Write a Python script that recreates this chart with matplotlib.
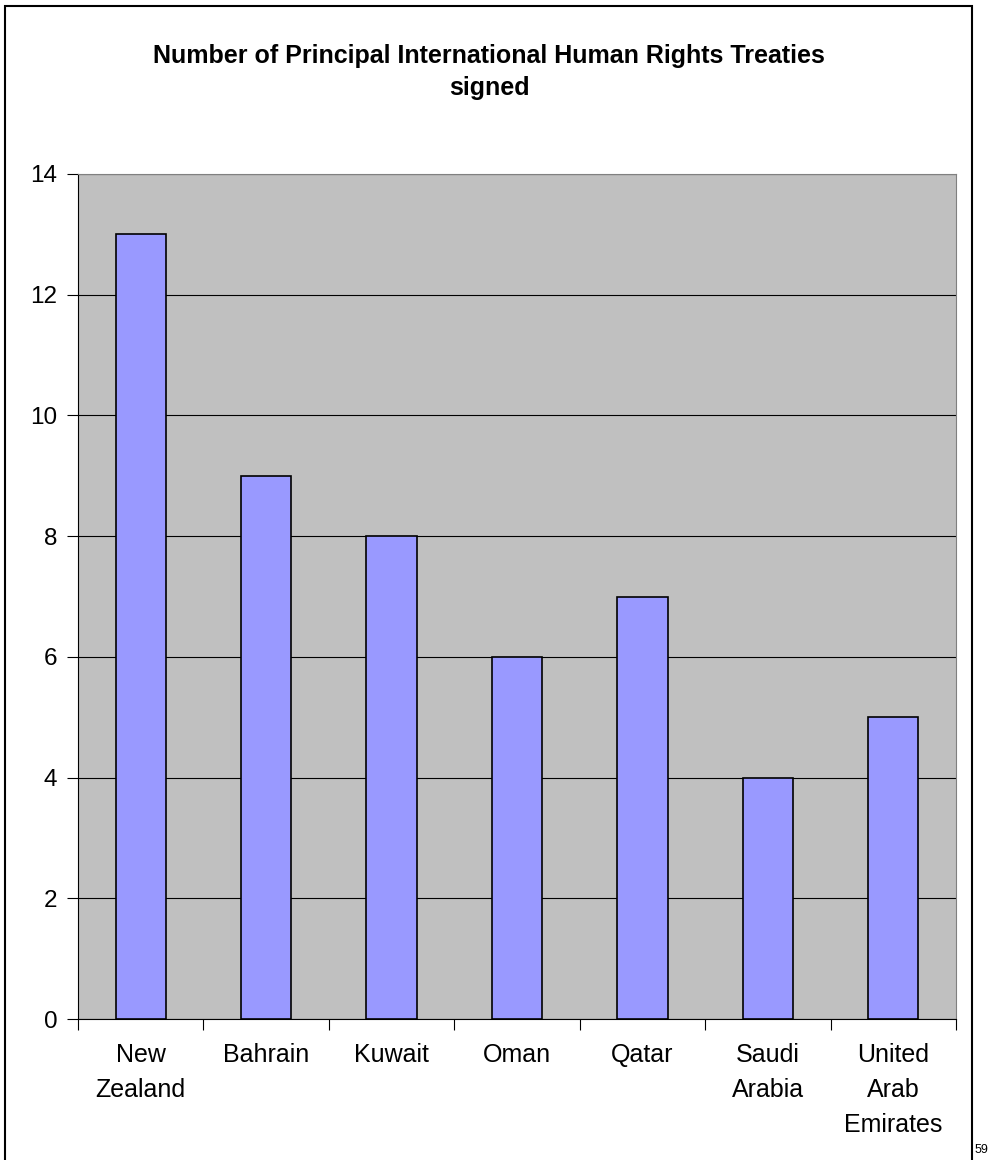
import matplotlib
matplotlib.use("Agg")
import matplotlib.pyplot as plt
from matplotlib.patches import Rectangle

plt.rcParams['font.family'] = ['Liberation Sans', 'DejaVu Sans']

# Data
countries = ["New\nZealand", "Bahrain", "Kuwait", "Oman", "Qatar",
             "Saudi\nArabia", "United\nArab\nEmirates"]
treaties = [13, 9, 8, 6, 7, 4, 5]
yticks = [0, 2, 4, 6, 8, 10, 12, 14]

fig = plt.figure(figsize=(9.98, 11.6), dpi=100)
ax = fig.add_axes([78/998, 1 - 1019/1160, 878/998, 845/1160])

# outer chart border (bottom edge is off the page)
fig.patches.append(Rectangle((5/998, -0.01), 967/998, 1 - 6/1160 + 0.01,
                             transform=fig.transFigure, fill=False,
                             edgecolor='black', linewidth=1.5))

ax.set_facecolor('#c0c0c0')
x = range(len(countries))
ax.bar(x, treaties, width=0.4, color='#9999ff', edgecolor='black',
       linewidth=1.2, zorder=3)

ax.set_xlim(-0.5, len(countries) - 0.5)
ax.set_ylim(0, 14)
ax.set_yticks(yticks)
ax.set_yticklabels([str(v) for v in yticks], fontsize=17.5)
ax.yaxis.grid(True, color='black', linewidth=0.8, zorder=1)
ax.set_axisbelow(True)

# x ticks at category boundaries, labels centered
ax.set_xticks([i - 0.5 for i in range(len(countries) + 1)])
ax.set_xticklabels([])
ax.set_xticks(list(x), minor=True)
ax.set_xticklabels(countries, minor=True, fontsize=18, linespacing=1.6)
ax.tick_params(axis='x', which='minor', length=0, pad=17)
ax.tick_params(axis='x', which='major', length=8, direction='out', color='black')
ax.tick_params(axis='y', length=8, direction='out', pad=7)

for s in ['top', 'right']:
    ax.spines[s].set_color('#808080')
ax.spines['left'].set_color('black')
ax.spines['bottom'].set_color('black')

fig.text(489/998, 1 - 72/1160,
         "Number of Principal International Human Rights Treaties\nsigned",
         ha='center', va='center', fontsize=18, fontweight='bold',
         linespacing=1.45)

fig.text(975/998, 1 - 1150/1160, "59", fontsize=9, ha='left', va='center')

fig.savefig("out.png", dpi=100)
